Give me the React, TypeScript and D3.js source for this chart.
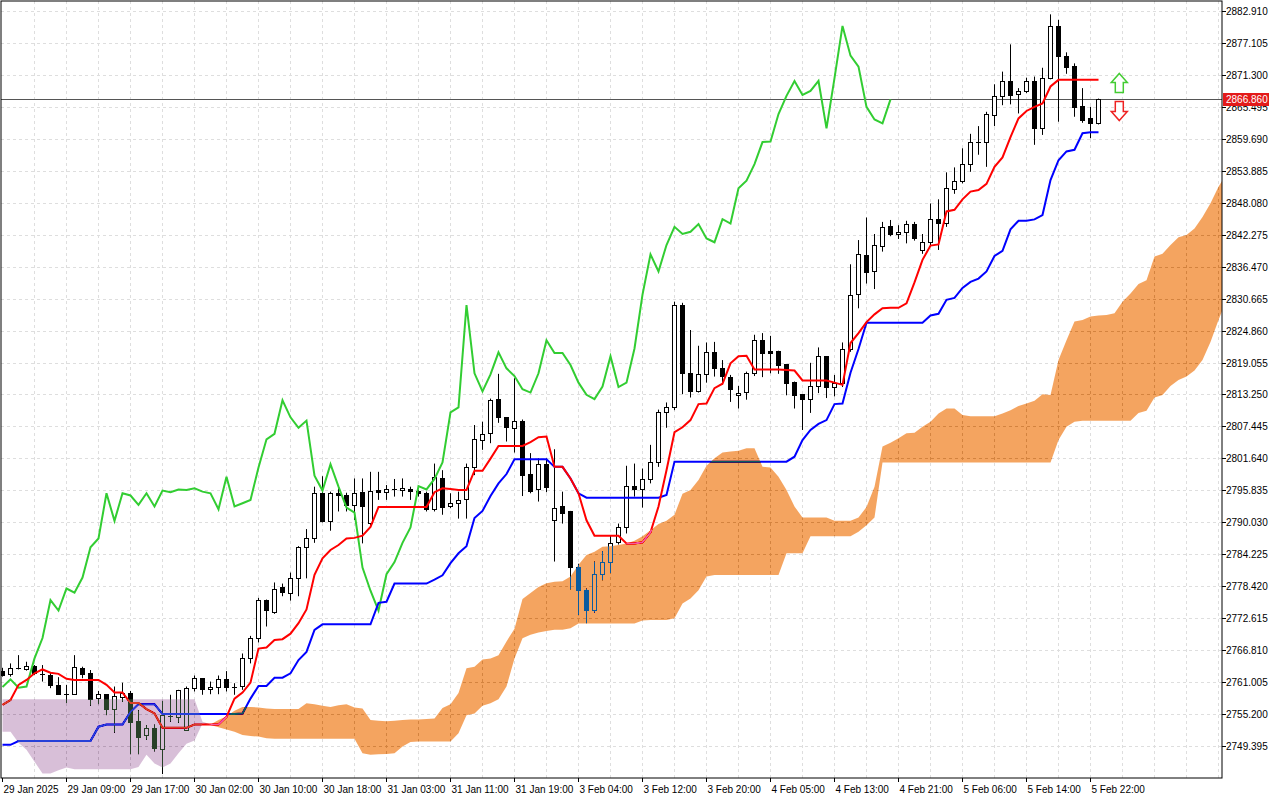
import React from 'react';
import * as d3 from 'd3';

// ---- candle data (hourly, XAUUSD-like) ----
const opens = [2763.0,2762.4,2763.5,2763.4,2763.9,2762.4,2762.3,2760.5,2758.9,2758.8,2763.6,2762.7,2758.0,2758.8,2756.1,2758.4,2759.1,2754.0,2751.3,2752.6,2748.8,2754.8,2754.7,2752.3,2759.9,2761.7,2759.7,2760.1,2761.5,2760.2,2760.2,2765.3,2769.0,2775.9,2773.8,2778.2,2777.3,2779.85,2785.5,2787.1,2795.3,2790.3,2795.3,2795.0,2793.2,2795.5,2790.0,2795.9,2795.5,2796.1,2795.8,2796.0,2795.7,2795.3,2792.4,2798.1,2792.9,2793.5,2794.1,2800.0,2805.1,2806.2,2812.4,2809.1,2807.3,2808.4,2798.8,2796.0,2800.6,2790.6,2793.0,2792.0,2781.85,2777.7,2774.0,2780.6,2782.8,2786.3,2789.1,2796.6,2796.0,2797.9,2800.9,2810.0,2810.9,2829.5,2817.1,2813.8,2816.9,2820.9,2818.0,2816.4,2813.2,2813.6,2817.1,2823.1,2821.1,2821.1,2818.8,2815.6,2813.3,2812.4,2814.7,2820.2,2814.6,2815.4,2821.6,2831.45,2838.6,2835.6,2840.2,2843.9,2842.5,2842.8,2844.2,2839.5,2840.9,2845.1,2844.3,2850.7,2852.1,2855.1,2859.0,2859.1,2864.1,2867.5,2870.2,2867.8,2868.4,2870.2,2861.6,2870.7,2880.2,2874.8,2872.9,2865.7,2863.4,2862.5];
const highs = [2763.6,2764.4,2765.9,2764.7,2764.1,2764.1,2762.7,2761.9,2760.5,2765.9,2763.8,2763.2,2759.4,2758.8,2760.2,2760.9,2759.4,2755.9,2753.2,2753.3,2757.6,2758.7,2759.6,2760.2,2762.2,2761.7,2761.1,2762.2,2763.0,2760.8,2766.2,2769.4,2776.3,2776.0,2779.1,2778.9,2780.9,2785.7,2788.8,2796.5,2798.4,2795.6,2796.2,2795.4,2798.0,2798.0,2799.2,2799.2,2796.8,2797.9,2798.0,2796.5,2795.9,2795.6,2800.7,2799.5,2795.3,2795.6,2800.7,2807.7,2808.3,2812.5,2817.0,2809.1,2816.2,2808.7,2802.6,2801.65,2801.65,2803.3,2795.6,2792.1,2782.5,2778.0,2782.9,2784.8,2787.7,2789.8,2800.3,2800.7,2799.8,2804.1,2810.5,2811.8,2830.1,2829.9,2824.96,2822.1,2822.7,2822.8,2819.5,2816.8,2814.8,2817.4,2824.1,2824.4,2823.9,2821.2,2818.8,2815.6,2813.3,2819.0,2821.8,2820.2,2816.8,2822.7,2836.9,2841.3,2845.4,2842.4,2844.6,2844.95,2844.0,2844.8,2844.6,2842.4,2847.95,2848.7,2853.6,2854.5,2857.97,2860.6,2862.0,2864.6,2869.6,2871.9,2876.85,2868.9,2870.8,2871.0,2872.6,2882.3,2881.3,2875.4,2873.4,2868.9,2865.5,2867.0];
const lows = [2762.0,2762.0,2763.3,2763.1,2762.3,2761.1,2759.9,2758.8,2757.2,2758.8,2761.7,2756.7,2757.0,2755.0,2751.8,2757.4,2747.9,2747.9,2750.5,2748.4,2744.3,2753.8,2753.6,2752.3,2759.3,2758.7,2758.8,2758.8,2759.3,2758.7,2759.6,2764.4,2768.2,2771.1,2773.4,2776.6,2775.8,2776.6,2779.85,2786.3,2790.0,2788.5,2792.0,2792.0,2790.45,2786.2,2789.5,2794.1,2794.1,2794.7,2794.7,2794.1,2794.7,2792.0,2792.0,2791.4,2792.6,2790.7,2790.7,2798.6,2803.2,2804.4,2808.1,2804.7,2802.7,2794.8,2795.3,2793.8,2795.5,2782.9,2789.8,2777.85,2773.2,2771.7,2773.6,2779.5,2780.8,2786.0,2788.0,2794.7,2792.7,2797.1,2800.1,2807.2,2810.4,2813.3,2812.7,2813.6,2815.4,2816.5,2815.0,2811.9,2810.7,2812.3,2816.6,2816.4,2817.1,2817.0,2813.1,2810.7,2806.8,2809.9,2813.5,2812.6,2812.9,2814.6,2821.0,2828.9,2833.4,2832.4,2839.2,2842.0,2841.5,2840.7,2841.2,2838.8,2840.2,2839.5,2843.7,2849.7,2851.6,2853.7,2856.8,2854.6,2862.0,2865.8,2865.95,2864.3,2868.0,2858.6,2860.4,2870.5,2862.8,2871.5,2863.7,2862.6,2859.8,2862.3];
const closes = [2762.3,2763.5,2763.5,2763.9,2762.6,2762.3,2760.4,2758.8,2758.8,2763.7,2762.6,2757.9,2758.8,2756.1,2758.5,2759.1,2753.8,2751.1,2752.6,2748.9,2755.0,2754.9,2759.6,2759.9,2761.7,2759.7,2760.1,2761.5,2760.0,2760.2,2765.3,2769.0,2775.9,2774.0,2778.0,2777.25,2780.0,2785.5,2787.1,2795.3,2790.3,2795.3,2794.9,2793.2,2795.3,2792.9,2795.8,2795.5,2796.0,2795.9,2796.2,2795.6,2795.3,2792.4,2798.3,2792.9,2793.5,2794.1,2800.0,2805.1,2806.1,2812.2,2809.1,2807.2,2808.5,2798.5,2795.8,2800.6,2796.5,2792.7,2791.8,2781.8,2777.6,2774.0,2780.6,2782.8,2786.3,2789.1,2796.6,2796.0,2797.9,2800.9,2810.0,2810.9,2829.5,2817.1,2813.8,2816.9,2820.9,2818.0,2816.6,2814.2,2813.6,2817.1,2823.1,2820.8,2820.8,2818.6,2815.4,2813.2,2812.4,2814.7,2820.2,2814.6,2815.4,2821.6,2831.4,2838.7,2835.6,2840.4,2843.7,2842.4,2842.8,2844.2,2841.6,2840.9,2845.1,2844.3,2850.7,2852.1,2855.1,2859.1,2859.2,2864.2,2867.5,2870.2,2867.65,2868.4,2870.2,2861.6,2870.7,2880.2,2874.8,2872.8,2865.5,2863.2,2862.5,2866.86];

// ---- Ichimoku lines ----
const tenkan = [2756.85,2757.75,2760.5,2761.4,2762.6,2763.3,2762.7,2762.5,2761.6,2761.4,2761.4,2761.4,2761.4,2760.5,2759.1,2759.1,2757.2,2757.2,2756.1,2755.3,2752.7,2752.7,2752.7,2752.7,2753.3,2753.3,2753.3,2753.3,2754.7,2758.0,2759.1,2760.9,2767.1,2767.3,2768.65,2768.8,2769.8,2771.7,2774.2,2780.5,2783.5,2785.0,2785.9,2787.1,2787.2,2787.6,2789.2,2792.8,2792.8,2792.8,2792.8,2792.8,2792.8,2792.8,2795.5,2796.2,2796.1,2795.9,2795.9,2799.4,2799.4,2801.6,2803.9,2803.9,2803.9,2803.9,2804.6,2805.5,2805.6,2800.1,2800.1,2798.0,2795.3,2790.4,2787.6,2787.6,2787.6,2787.6,2786.2,2786.2,2786.4,2788.2,2792.9,2799.5,2806.4,2807.3,2808.6,2811.5,2811.6,2814.4,2815.2,2818.9,2820.2,2820.3,2817.8,2817.8,2817.8,2817.8,2817.7,2817.6,2815.8,2815.8,2815.8,2815.8,2815.4,2815.0,2822.6,2824.4,2826.4,2827.8,2828.9,2829.0,2829.0,2829.8,2833.6,2837.7,2840.3,2840.5,2846.5,2846.8,2848.7,2850.1,2850.4,2851.5,2854.6,2856.3,2860.0,2863.4,2864.75,2865.5,2866.1,2869.2,2870.4,2870.4,2870.4,2870.4,2870.4,2870.4];
const kijun = [2749.6,2749.6,2750.3,2750.3,2750.3,2750.3,2750.3,2750.3,2750.3,2750.3,2750.3,2750.3,2752.9,2753.3,2753.3,2753.3,2755.6,2757.0,2757.0,2757.0,2755.2,2755.2,2755.2,2755.2,2755.2,2755.2,2755.2,2755.2,2755.2,2755.2,2755.3,2758.0,2760.3,2760.3,2761.8,2761.8,2762.6,2765.0,2766.5,2770.5,2771.5,2771.5,2771.5,2771.5,2771.5,2771.5,2771.5,2775.4,2775.6,2778.9,2778.9,2778.9,2778.9,2778.9,2779.6,2780.4,2782.6,2784.4,2785.7,2790.8,2792.1,2794.8,2797.1,2798.8,2801.5,2801.5,2801.5,2801.5,2801.5,2800.1,2800.1,2798.0,2795.3,2794.5,2794.5,2794.5,2794.5,2794.5,2794.5,2794.5,2794.5,2794.5,2794.5,2795.0,2801.05,2801.05,2801.05,2801.05,2801.05,2801.05,2801.05,2801.05,2801.05,2801.05,2801.05,2801.05,2801.05,2801.05,2801.05,2801.95,2804.98,2806.8,2807.9,2808.6,2811.5,2811.6,2817.2,2821.5,2826.3,2826.3,2826.3,2826.3,2826.3,2826.3,2826.3,2826.3,2827.6,2827.9,2830.45,2830.8,2832.6,2833.7,2834.3,2835.6,2838.4,2839.35,2843.25,2844.8,2844.8,2845.06,2845.85,2852.2,2855.8,2857.4,2857.7,2860.7,2860.9,2860.9];
const spanA = [2752.0,2752.0,2750.0,2748.7,2746.55,2744.4,2744.4,2745.0,2745.5,2745.15,2745.15,2745.15,2745.15,2745.15,2745.15,2745.15,2745.15,2745.6,2747.8,2746.2,2745.5,2746.2,2748.1,2749.8,2750.4,2753.5,2753.3,2754.1,2754.8,2755.8,2756.5,2756.5,2756.4,2756.2,2756.1,2756.1,2756.1,2756.1,2757.15,2757.0,2756.7,2756.5,2756.8,2756.96,2756.4,2756.2,2754.1,2754.0,2753.9,2754.0,2754.1,2754.2,2754.2,2754.3,2754.4,2756.3,2757.0,2759.0,2763.5,2763.8,2765.1,2765.3,2765.9,2768.4,2770.7,2776.1,2777.2,2778.3,2778.95,2779.25,2779.3,2780.2,2782.3,2784.1,2784.7,2785.6,2785.7,2785.9,2786.2,2786.7,2787.5,2788.6,2789.7,2790.3,2791.4,2795.2,2795.9,2797.7,2800.3,2801.65,2802.7,2802.9,2803.05,2803.5,2803.5,2800.1,2800.0,2798.3,2795.9,2792.9,2790.9,2790.9,2790.9,2790.9,2790.3,2790.3,2790.3,2790.9,2792.8,2796.5,2803.8,2804.5,2805.3,2806.2,2806.3,2807.4,2808.3,2809.8,2810.7,2810.7,2809.5,2809.3,2809.3,2809.3,2809.3,2809.8,2810.4,2811.15,2811.6,2812.1,2813.3,2813.15,2819.5,2823.1,2826.5,2826.8,2827.4,2827.6,2827.7,2828.0,2830.1,2831.6,2833.3,2834.0,2838.3,2838.8,2840.4,2841.8,2842.2,2843.4,2845.5,2848.0,2851.0,2853.4];
const spanB = [2757.87,2757.87,2757.87,2757.87,2757.87,2757.87,2757.87,2757.87,2757.87,2757.87,2757.87,2757.87,2757.87,2757.87,2757.87,2757.87,2757.87,2757.87,2757.87,2757.87,2757.87,2757.87,2757.87,2757.87,2757.87,2753.8,2753.2,2752.8,2752.4,2752.0,2751.4,2751.2,2751.1,2750.8,2750.7,2750.7,2750.7,2750.7,2750.7,2750.7,2750.7,2750.7,2750.7,2750.7,2750.7,2748.1,2747.8,2747.9,2747.95,2748.1,2749.3,2750.1,2750.2,2750.2,2750.2,2750.2,2750.2,2751.7,2755.0,2755.3,2756.7,2757.15,2757.9,2760.2,2765.3,2768.96,2769.6,2770.0,2770.3,2770.5,2770.5,2770.8,2771.65,2771.65,2771.65,2771.65,2771.65,2771.65,2771.65,2771.65,2772.2,2772.3,2772.3,2772.3,2772.6,2775.3,2776.2,2777.7,2780.2,2780.45,2780.45,2780.45,2780.45,2780.45,2780.45,2780.45,2780.45,2780.45,2784.4,2784.4,2784.4,2787.5,2787.5,2787.5,2787.5,2787.5,2787.5,2788.3,2789.5,2790.9,2800.9,2800.9,2800.9,2800.9,2800.9,2800.9,2800.9,2800.9,2800.9,2800.9,2800.9,2800.9,2800.9,2800.9,2800.9,2800.9,2800.9,2800.9,2800.9,2800.9,2800.9,2800.9,2805.0,2807.4,2808.3,2808.5,2808.5,2808.5,2808.5,2808.5,2808.5,2808.5,2809.9,2810.3,2812.7,2813.15,2814.8,2815.9,2816.5,2817.6,2819.5,2822.8,2826.8,2830.4];

// ---- axis labels ----
const priceTicks = ['2882.910','2877.105','2871.300','2865.495','2859.690','2853.885','2848.080','2842.275','2836.470','2830.665','2824.860','2819.055','2813.250','2807.445','2801.640','2795.835','2790.030','2784.225','2778.420','2772.615','2766.810','2761.005','2755.200','2749.395'];
const timeLabels = ['29 Jan 2025','29 Jan 09:00','29 Jan 17:00','30 Jan 02:00','30 Jan 10:00','30 Jan 18:00','31 Jan 03:00','31 Jan 11:00','31 Jan 19:00','3 Feb 04:00','3 Feb 12:00','3 Feb 20:00','4 Feb 05:00','4 Feb 13:00','4 Feb 21:00','5 Feb 06:00','5 Feb 14:00','5 Feb 22:00'];
const timeLabelBars = [0,8,16,24,32,40,48,56,64,72,80,88,96,104,112,120,128,136];
const chikouShift = 26;

const FONT = '"Liberation Sans", Arial, sans-serif';

export default function App() {
  const plotL = 1, plotT = 1, plotR = 1222, plotB = 778;
  const x = d3.scaleLinear().domain([0, 1]).range([2.5, 10.5]);
  const y = d3.scaleLinear().domain([2749.395, 2882.91]).range([746, 11]);

  const lineGen = d3.line<number>().x((_, i) => x(i)).y((d) => y(d));
  const chikou = closes.slice(chikouShift);

  const orangeArea = d3.area<number>()
    .x((_, i) => x(i))
    .y0((_, i) => y(spanB[i]))
    .y1((_, i) => y(Math.max(spanA[i], spanB[i])));
  const purpleArea = d3.area<number>()
    .x((_, i) => x(i))
    .y0((_, i) => y(spanB[i]))
    .y1((_, i) => y(Math.min(spanA[i], spanB[i])));

  const vGrid = d3.range(4, 156, 4);
  const lastClose = closes[closes.length - 1];
  const lastY = Math.round(y(lastClose)) + 0.5;
  const arrowX = x(closes.length + 1.6);

  return (
    <div style={{ position: 'fixed', left: 0, top: 0, width: 1280, height: 800, background: '#fff' }}>
      <svg width={1280} height={800} style={{ display: 'block' }}>
        <defs>
          <clipPath id="plot">
            <rect x={plotL} y={plotT} width={plotR - plotL} height={plotB - plotT} />
          </clipPath>
        </defs>
        <rect x={0} y={0} width={1280} height={800} fill="#ffffff" />
        <g clipPath="url(#plot)">
          {/* opaque backdrop so the cloud blend sees white */}
          <rect x={plotL} y={plotT} width={plotR - plotL} height={plotB - plotT} fill="#ffffff" />
          {/* grid */}
          <g stroke="#dedede" strokeDasharray="3,3" strokeWidth={1}>
            {priceTicks.map((t) => {
              const yy = Math.round(y(+t)) + 0.5;
              return <line key={'h' + t} x1={plotL} x2={plotR} y1={yy} y2={yy} />;
            })}
            {vGrid.map((i) => {
              const xx = Math.floor(x(i)) + 0.5;
              return xx < plotR ? <line key={'v' + i} x1={xx} x2={xx} y1={plotT} y2={plotB} /> : null;
            })}
          </g>
          {/* current price line */}
          <line x1={plotL} x2={plotR} y1={lastY} y2={lastY} stroke="#555" strokeWidth={1} />
          {/* candles */}
          {closes.map((c, i) => {
            const o = opens[i];
            const cx = Math.floor(x(i)) + 0.5;
            const bull = c >= o;
            const top = y(Math.max(o, c));
            const bot = y(Math.min(o, c));
            const h = Math.max(bot - top, 0);
            return (
              <g key={'c' + i}>
                <line x1={cx} x2={cx} y1={y(highs[i])} y2={y(lows[i])} stroke="#000" strokeWidth={1} />
                {h < 1.2 ? (
                  <line x1={cx - 2.5} x2={cx + 2.5} y1={Math.round(top) + 0.5} y2={Math.round(top) + 0.5} stroke="#000" strokeWidth={1} />
                ) : (
                  <rect x={cx - 2} y={Math.round(top) + 0.5} width={4} height={Math.max(Math.round(h), 1)}
                    fill={bull ? '#fff' : '#000'} stroke="#000" strokeWidth={1} />
                )}
              </g>
            );
          })}
          {/* ichimoku lines */}
          <path d={lineGen(chikou) || ''} fill="none" stroke="#32cd32" strokeWidth={2} />
          <path d={lineGen(kijun) || ''} fill="none" stroke="#0000ff" strokeWidth={2} />
          <path d={lineGen(tenkan) || ''} fill="none" stroke="#ff0000" strokeWidth={2} />
          {/* cloud, blended like the terminal's filling */}
          <path d={orangeArea(spanA) || ''} fill="rgb(11,91,159)" style={{ mixBlendMode: 'difference' }} />
          <path d={purpleArea(spanA) || ''} fill="rgb(39,64,39)" style={{ mixBlendMode: 'difference' }} />
        </g>
        {/* trade arrows */}
        <g strokeWidth={1.5} fill="#fff">
          <path d={`M${arrowX},${lastY - 26} l8,9 h-4 v10 h-8 v-10 h-4 z`} stroke="#44cc33" />
          <path d={`M${arrowX},${lastY + 21} l8,-9 h-4 v-10 h-8 v10 h-4 z`} stroke="#ee2222" />
        </g>
        {/* frame */}
        <rect x={plotL} y={plotT} width={plotR - plotL} height={plotB - plotT} fill="none" stroke="#000" strokeWidth={1} />
        {/* right axis */}
        <g fontFamily={FONT} fontSize={10} fill="#000">
          {priceTicks.map((t) => {
            const yy = Math.round(y(+t)) + 0.5;
            return (
              <g key={'pt' + t}>
                <line x1={plotR} x2={plotR + 4} y1={yy} y2={yy} stroke="#000" />
                <text x={plotR + 4} y={yy + 3.5}>{t}</text>
              </g>
            );
          })}
        </g>
        {/* last price tag */}
        <rect x={plotR + 1} y={lastY - 6.5} width={46} height={13} fill="#e31a1a" />
        <text x={plotR + 4} y={lastY + 3.5} fontFamily={FONT} fontSize={10} fill="#fff">{lastClose.toFixed(3)}</text>
        {/* bottom axis */}
        <g fontFamily={FONT} fontSize={10} fill="#000">
          {timeLabels.map((t, k) => {
            const xx = Math.floor(x(timeLabelBars[k])) + 0.5;
            return (
              <g key={'tl' + k}>
                <line x1={xx} x2={xx} y1={plotB} y2={plotB + 4} stroke="#000" />
                <text x={xx + 1} y={plotB + 15}>{t}</text>
              </g>
            );
          })}
        </g>
      </svg>
    </div>
  );
}
